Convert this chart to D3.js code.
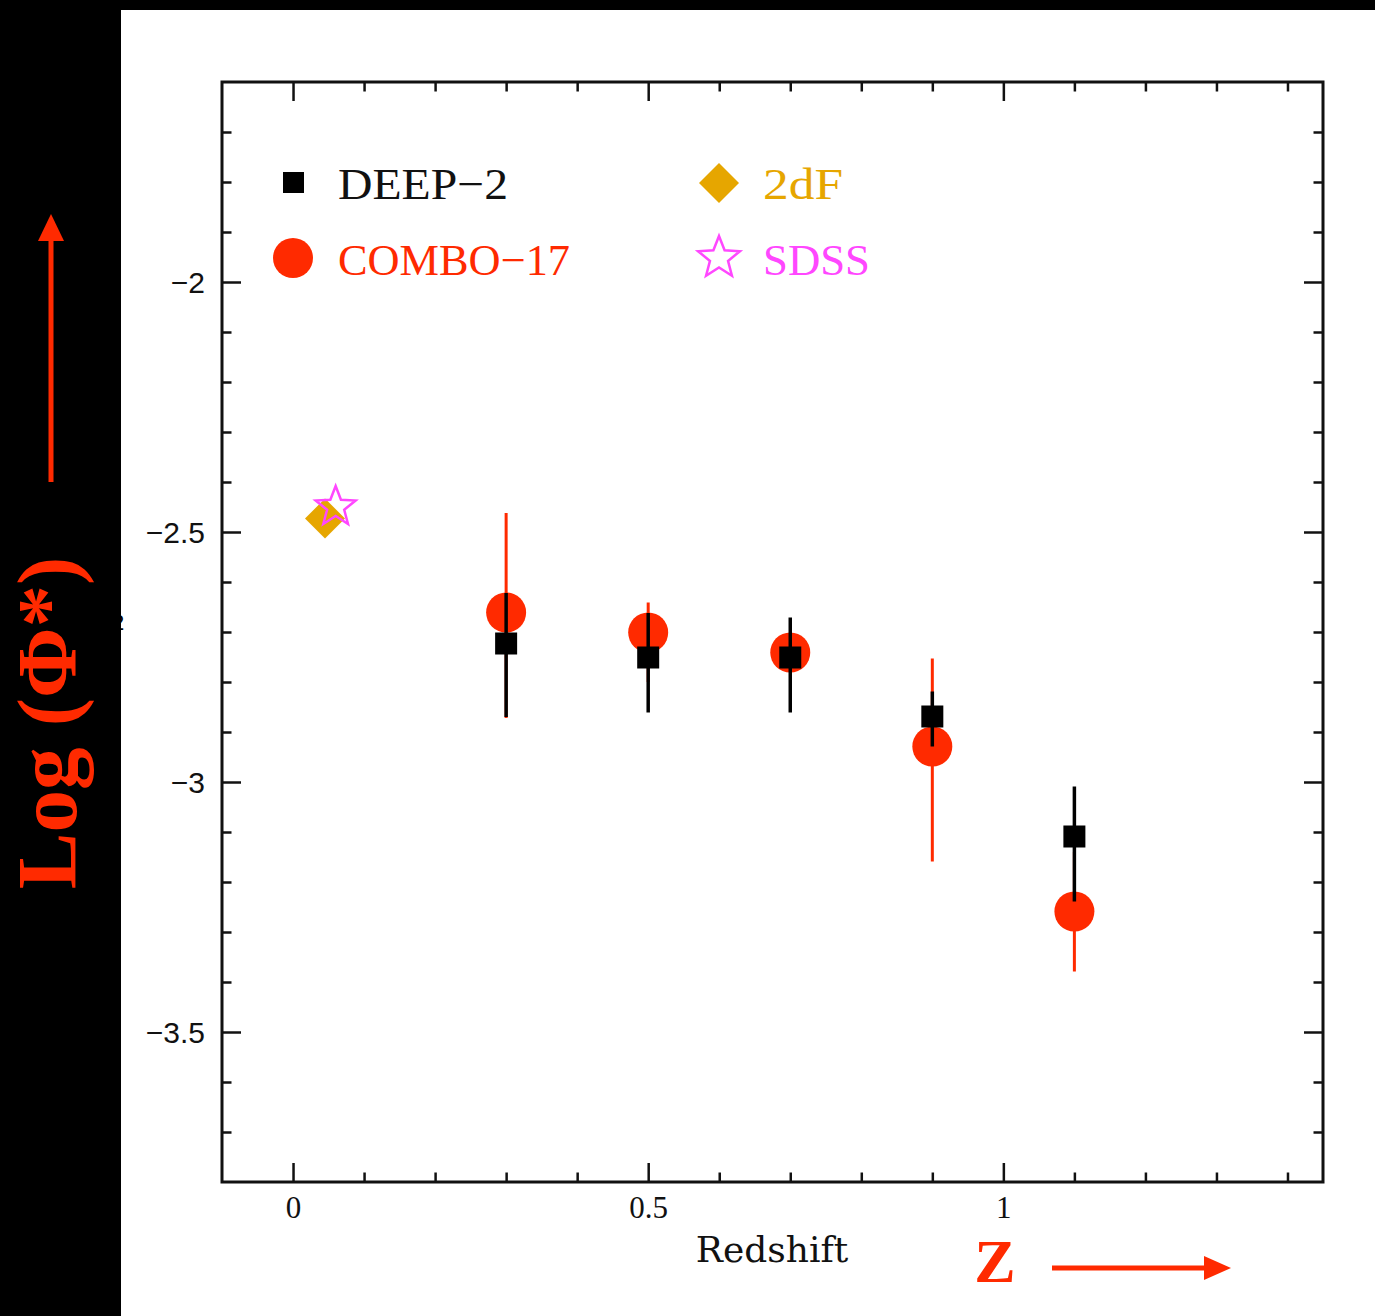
<!DOCTYPE html>
<html><head><meta charset="utf-8">
<script src="https://cdn.jsdelivr.net/npm/d3@7"></script>
<style>html,body{margin:0;padding:0;background:#000;}svg{display:block;}</style>
</head><body>
<script>
// ---- data ----
const redshift = [0.3, 0.5, 0.7, 0.9, 1.1];
const deep2 = [-2.723, -2.751, -2.751, -2.869, -3.109];
const deep2Hi = [-2.622, -2.662, -2.671, -2.819, -3.009];
const deep2Lo = [-2.870, -2.861, -2.861, -2.929, -3.239];
const combo = [-2.661, -2.701, -2.741, -2.929, -3.259];
const comboHi = [-2.462, -2.641, -2.715, -2.753, -3.140];
const comboLo = [-2.872, -2.800, -2.770, -3.159, -3.379];
const twodfZ = [0.045];
const twodfVal = [-2.473];
const sdssZ = [0.06];
const sdssVal = [-2.45];
const xMajorTicks = [0, 0.5, 1];
const xMinorTicks = [0.1, 0.2, 0.3, 0.4, 0.6, 0.7, 0.8, 0.9, 1.1, 1.2, 1.3, 1.4];
const yMajorTicks = [-2, -2.5, -3, -3.5];
const yMinorTicks = [-1.7, -1.8, -1.9, -2.1, -2.2, -2.3, -2.4, -2.6, -2.7, -2.8, -2.9, -3.1, -3.2, -3.3, -3.4, -3.6, -3.7];
const legendItems = ["DEEP\u22122", "COMBO\u221217", "2dF", "SDSS"];

const W = 1375, H = 1316;
const RED = "#ff2a00", GOLD = "#e6a600", MAG = "#ff47ff";
const svg = d3.select("body").append("svg").attr("width", W).attr("height", H);
svg.append("rect").attr("width", W).attr("height", H).attr("fill", "#000");
svg.append("rect").attr("x", 121).attr("y", 10).attr("width", W - 121).attr("height", H - 10).attr("fill", "#fff");

const L = 222, R = 1323, T = 82, B = 1182;
const x = d3.scaleLinear().domain([-0.1, 1.45]).range([L, R]);
const y = d3.scaleLinear().domain([-3.8, -1.6]).range([B, T]);

// stray partially-hidden label char
svg.append("text").attr("x", 112).attr("y", 630).attr("font-family", "Liberation Sans").attr("font-size", 22).attr("fill", "#000").text("2");
svg.append("rect").attr("x", 0).attr("y", 0).attr("width", 121).attr("height", H).attr("fill", "#000");
svg.append("rect").attr("x", 0).attr("y", 0).attr("width", W).attr("height", 10).attr("fill", "#000");

// axes
function styleAxis(g, label) {
  g.select(".domain").remove();
  g.selectAll(".tick line").attr("stroke", "#111").attr("stroke-width", 2.5);
  if (!label) g.selectAll(".tick text").remove();
}
const gx = svg.append("g").attr("transform", `translate(0,${B})`);
gx.call(d3.axisBottom(x).tickValues(xMajorTicks).tickSize(-19).tickPadding(0).tickFormat(d3.format("")));
styleAxis(gx, true);
gx.selectAll(".tick text").attr("y", 36).attr("dy", 0).attr("font-family", "Liberation Serif").attr("font-size", 31).attr("fill", "#111");
const gx2 = svg.append("g").attr("transform", `translate(0,${B})`).call(d3.axisBottom(x).tickValues(xMinorTicks).tickSize(-9.5));
styleAxis(gx2, false);
const gt = svg.append("g").attr("transform", `translate(0,${T})`).call(d3.axisTop(x).tickValues(xMajorTicks).tickSize(-19));
styleAxis(gt, false);
const gt2 = svg.append("g").attr("transform", `translate(0,${T})`).call(d3.axisTop(x).tickValues(xMinorTicks).tickSize(-9.5));
styleAxis(gt2, false);

const fmtY = d => (d < 0 ? "\u2212" : "") + Math.abs(d);
const gy = svg.append("g").attr("transform", `translate(${L},0)`).call(d3.axisLeft(y).tickValues(yMajorTicks).tickSize(-19).tickFormat(fmtY));
styleAxis(gy, true);
gy.selectAll(".tick text").attr("x", -17).attr("dy", "0.36em").attr("font-family", "Liberation Sans").attr("font-size", 30).attr("fill", "#111");
const gy2 = svg.append("g").attr("transform", `translate(${L},0)`).call(d3.axisLeft(y).tickValues(yMinorTicks).tickSize(-9.5));
styleAxis(gy2, false);
const gr = svg.append("g").attr("transform", `translate(${R},0)`).call(d3.axisRight(y).tickValues(yMajorTicks).tickSize(-19));
styleAxis(gr, false);
const gr2 = svg.append("g").attr("transform", `translate(${R},0)`).call(d3.axisRight(y).tickValues(yMinorTicks).tickSize(-9.5));
styleAxis(gr2, false);

svg.append("rect").attr("x", L).attr("y", T).attr("width", R - L).attr("height", B - T)
  .attr("fill", "none").attr("stroke", "#111").attr("stroke-width", 3);

// axis title
svg.append("text").attr("x", 772).attr("y", 1262).attr("text-anchor", "middle")
  .attr("font-family", "DejaVu Serif").attr("font-size", 36).attr("fill", "#111").text("Redshift");

// star path helper
function starPath(cx, cy, ro, ri) {
  const pts = d3.range(10).map(i => {
    const a = -Math.PI / 2 + i * Math.PI / 5;
    const r = i % 2 === 0 ? ro : ri;
    return [cx + r * Math.cos(a), cy + r * Math.sin(a)];
  });
  return "M" + pts.map(p => p.join(",")).join("L") + "Z";
}
function diamondPath(cx, cy, r) {
  return `M${cx},${cy - r}L${cx + r},${cy}L${cx},${cy + r}L${cx - r},${cy}Z`;
}

// 2dF and SDSS
const pts = svg.append("g");
twodfZ.forEach((zz, i) => pts.append("path").attr("d", diamondPath(x(zz), y(twodfVal[i]), 20)).attr("fill", GOLD));
sdssZ.forEach((zz, i) => pts.append("path").attr("d", starPath(x(zz), y(sdssVal[i]), 21, 9)).attr("fill", "none").attr("stroke", MAG).attr("stroke-width", 2.5));

// COMBO-17
redshift.forEach((zz, i) => {
  pts.append("line").attr("x1", x(zz)).attr("x2", x(zz)).attr("y1", y(comboHi[i])).attr("y2", y(comboLo[i]))
    .attr("stroke", RED).attr("stroke-width", 3);
});
redshift.forEach((zz, i) => pts.append("circle").attr("cx", x(zz)).attr("cy", y(combo[i])).attr("r", 20).attr("fill", RED));
// DEEP-2
redshift.forEach((zz, i) => {
  pts.append("line").attr("x1", x(zz)).attr("x2", x(zz)).attr("y1", y(deep2Hi[i])).attr("y2", y(deep2Lo[i]))
    .attr("stroke", "#000").attr("stroke-width", 3.5);
});
redshift.forEach((zz, i) => pts.append("rect").attr("x", x(zz) - 11).attr("y", y(deep2[i]) - 11).attr("width", 22).attr("height", 22).attr("fill", "#000"));

// legend
const lg = svg.append("g");
lg.append("rect").attr("x", 283).attr("y", 172).attr("width", 21).attr("height", 21).attr("fill", "#000");
lg.append("circle").attr("cx", 293).attr("cy", 258).attr("r", 20).attr("fill", RED);
lg.append("path").attr("d", diamondPath(719, 183, 20)).attr("fill", GOLD);
lg.append("path").attr("d", starPath(719, 258, 22, 9.5)).attr("fill", "none").attr("stroke", MAG).attr("stroke-width", 2.5);
const legText = [
  {t: legendItems[0], x: 338, y: 199, c: "#111", w: 170},
  {t: legendItems[1], x: 338, y: 275, c: RED, w: 232},
  {t: legendItems[2], x: 763, y: 199, c: GOLD, w: 80},
  {t: legendItems[3], x: 763, y: 275, c: MAG, w: 107}
];
legText.forEach(d => lg.append("text").attr("x", d.x).attr("y", d.y).attr("font-family", "Liberation Serif")
  .attr("font-size", 44).attr("fill", d.c).attr("textLength", d.w).attr("lengthAdjust", "spacingAndGlyphs").text(d.t));

// red annotations
const ann = svg.append("g");
ann.append("text").attr("transform", "translate(76,723) rotate(-90)").attr("text-anchor", "middle")
  .attr("font-family", "Liberation Serif").attr("font-weight", "bold").attr("font-size", 85).attr("fill", RED).text("Log (\u03A6*)");
ann.append("line").attr("x1", 51).attr("x2", 51).attr("y1", 482).attr("y2", 236).attr("stroke", RED).attr("stroke-width", 5);
ann.append("path").attr("d", "M51,214L38,241L64,241Z").attr("fill", RED);
ann.append("text").attr("x", 995).attr("y", 1282).attr("text-anchor", "middle")
  .attr("font-family", "Liberation Serif").attr("font-weight", "bold").attr("font-size", 62).attr("fill", RED).text("Z");
ann.append("line").attr("x1", 1052).attr("x2", 1210).attr("y1", 1268).attr("y2", 1268).attr("stroke", RED).attr("stroke-width", 5);
ann.append("path").attr("d", "M1231,1268L1204,1256L1204,1280Z").attr("fill", RED);
</script>
</body></html>
